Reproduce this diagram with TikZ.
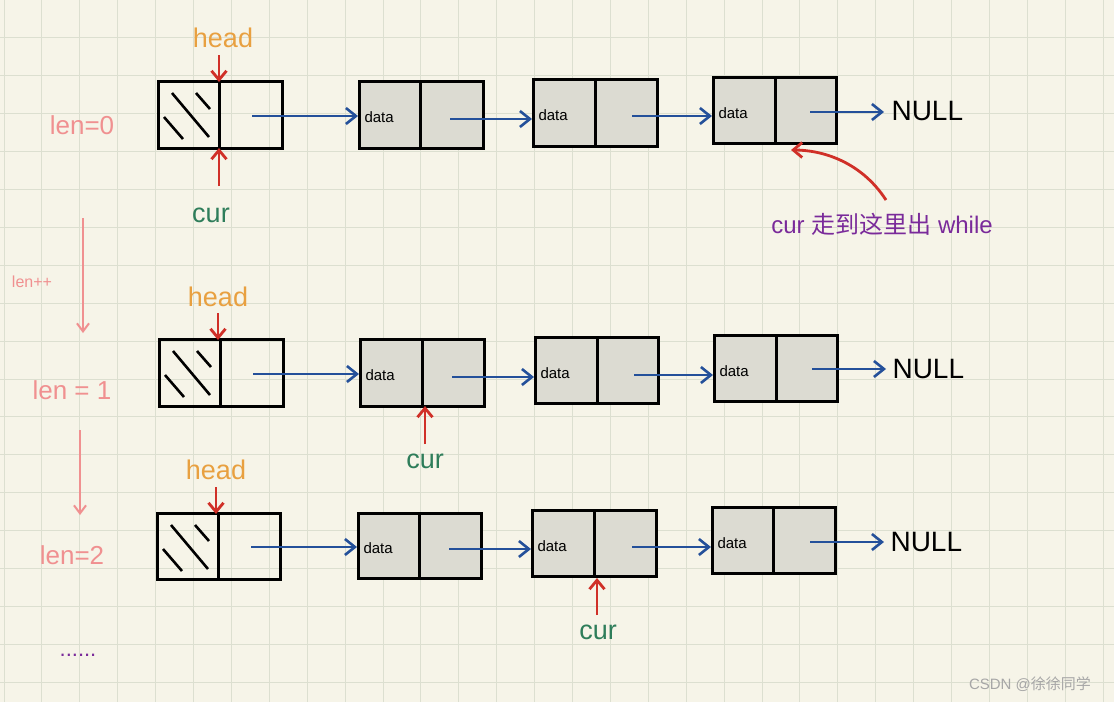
\documentclass[tikz,border=0pt]{standalone}
\usepackage{fontspec}
\setmainfont{Liberation Sans}
\newfontfamily\cjk{Noto Sans CJK SC}
\usetikzlibrary{arrows.meta}
\definecolor{bg}{HTML}{F6F4E8}
\definecolor{gridc}{HTML}{DCDFD0}
\definecolor{cell}{HTML}{DCDBD2}
\definecolor{blu}{HTML}{24509A}
\definecolor{rd}{HTML}{D03028}
\definecolor{org}{HTML}{E8A040}
\definecolor{grn}{HTML}{2E7D5A}
\definecolor{pnk}{HTML}{F09090}
\definecolor{pur}{HTML}{7A2A9A}
\begin{document}
\begin{tikzpicture}[x=1pt,y=-1pt,
 box/.style={draw=black,line width=3pt},
 lk/.style={draw=blu,line width=2.6pt,-{Straight Barb[length=10pt,width=16pt]}},
 ptr/.style={draw=rd,line width=2.8pt,-{Straight Barb[length=9pt,width=15pt]}},
 pk/.style={draw=pnk,line width=2pt,-{Straight Barb[length=8pt,width=12pt]}},
 dt/.style={font=\fontsize{15}{15}\selectfont,anchor=west},
 nul/.style={font=\fontsize{28}{28}\selectfont,anchor=west},
 hd/.style={text=org,font=\fontsize{27}{27}\selectfont},
 cu/.style={text=grn,font=\fontsize{27}{27}\selectfont},
 hw/.style={text=pnk,font=\fontsize{26}{26}\selectfont}]
\fill[bg] (0,0) rectangle (1114,702);
\useasboundingbox (0,0) rectangle (1114,702);
\foreach \i in {0,...,29} \draw[gridc,line width=1pt] (4+\i*37.9,0) -- (4+\i*37.9,702);
\foreach \i in {1,...,18} \draw[gridc,line width=1pt] (0,\i*37.9) -- (1114,\i*37.9);
\foreach \x/\y/\s/\X/\Y [count=\r] in {158/81/219/282/148,159/339/220/283/406,157/513/218/280/579}{
  \draw[box] (\x,\y) rectangle (\X,\Y);
  \draw[box] (\s,\y) -- (\s,\Y);
  \draw[line width=2.6pt] (\x+14,\y+12) -- (\x+51,\y+56);
  \draw[line width=2.6pt] (\x+38,\y+12) -- (\x+52,\y+28);
  \draw[line width=2.6pt] (\x+6,\y+36) -- (\x+25,\y+58);
}
\foreach \x/\y/\s/\X/\Y/\n in {359/81/420/483/148/a1,533/79/595/657/146/a2,713/77/775/836/143/a3,
 360/339/422/484/406/b1,535/337/597/658/403/b2,714/335/776/837/401/b3,
 358/513/419/481/578/c1,532/510/594/656/576/c2,712/507/773/835/573/c3}{
  \draw[box,fill=cell] (\x,\y) rectangle (\X,\Y);
  \draw[box] (\s,\y) -- (\s,\Y);
  \node[dt] (\n) at (\x+2,{(\y+\Y)/2+3}) {data};
}
\draw[lk] (252,116) -- (358,116);
\draw[lk] (450,119) -- (532,119);
\draw[lk] (632,116) -- (712,116);
\draw[lk] (810,112) -- (884,112);
\node[nul] (n1) at (888,111) {NULL};
\draw[lk] (253,374) -- (359,374);
\draw[lk] (452,377) -- (534,377);
\draw[lk] (634,375) -- (713,375);
\draw[lk] (812,369) -- (886,369);
\node[nul] (n2) at (889,369) {NULL};
\draw[lk] (251,547) -- (357,547);
\draw[lk] (449,549) -- (531,549);
\draw[lk] (632,547) -- (711,547);
\draw[lk] (810,542) -- (884,542);
\node[nul] (n3) at (887,542) {NULL};
\node[hd] (hA) at (223,38) {head}; \draw[ptr] (219,55) -- (219,82);
\node[cu] (cA) at (211,215) {cur}; \draw[ptr] (219,186) -- (219,148);
\node[hd] (hB) at (218,297) {head}; \draw[ptr] (218,313) -- (218,340);
\node[cu] (cB) at (425,461) {cur}; \draw[ptr] (425,444) -- (425,406);
\node[hd] (hC) at (216,470) {head}; \draw[ptr] (216,487) -- (216,514);
\node[cu] (cC) at (598,632) {cur}; \draw[ptr] (597,615) -- (597,578);
\node[hw] at (82,125) {len=0};
\node[text=pnk,font=\fontsize{16}{16}\selectfont] at (32,282) {len++};
\node[hw] at (72,390) {len = 1};
\node[hw] at (72,555) {len=2};
\draw[pk] (83,218) -- (83,333);
\draw[pk] (80,430) -- (80,515);
\node[text=pur,font=\fontsize{24}{24}\selectfont] at (882,224) {cur {\cjk 走到这里出} while};
\node[text=pur,font=\fontsize{22}{22}\selectfont] at (78,655) {......};
\draw[ptr] (886,200) .. controls (860,160) and (820,150) .. (791,150);
\node[text=gray!70,font=\fontsize{15}{15}\selectfont] at (1030,684) {CSDN @{\cjk 徐徐同学}};
\end{tikzpicture}
\end{document}
